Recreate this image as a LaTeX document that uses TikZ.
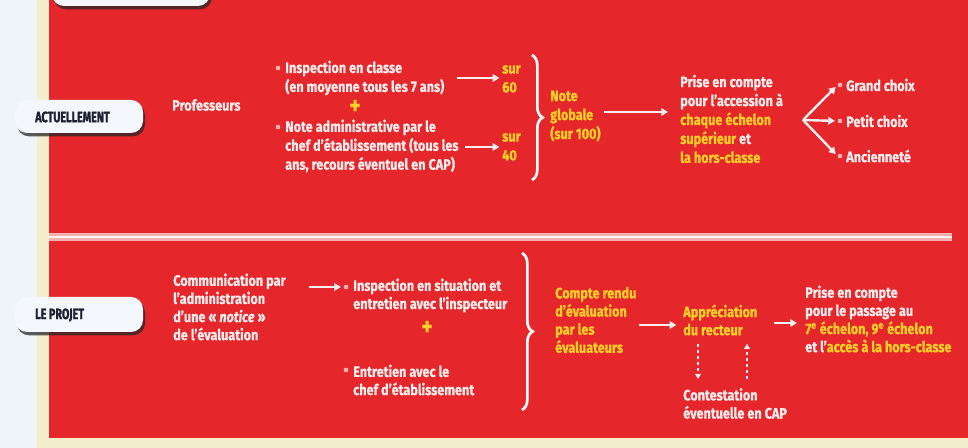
\documentclass[tikz,border=0pt]{standalone}
\usepackage{fontspec}
\setmainfont{Fira Sans}[FakeStretch=0.84, BoldFeatures={FakeBold=0.8}, BoldItalicFeatures={FakeBold=0.8}]
\newfontfamily\tabfont{Fira Sans}[FakeStretch=0.72, BoldFeatures={FakeBold=1.6}]
\usetikzlibrary{shadows,decorations.pathreplacing,arrows.meta}
\definecolor{redbg}{RGB}{229,38,42}
\definecolor{ylw}{RGB}{255,208,40}
\definecolor{wtxt}{RGB}{252,236,236}
\definecolor{blueleft}{RGB}{238,244,250}
\definecolor{cream}{RGB}{243,239,205}
\definecolor{tabf}{RGB}{244,248,252}
\definecolor{tabt}{RGB}{30,32,50}
\definecolor{pinkline}{RGB}{246,176,176}
\definecolor{bulc}{RGB}{250,175,175}
\definecolor{arrw}{RGB}{248,240,240}
\newcommand\fsA{\fontsize{11.3}{14.2}\selectfont\bfseries}
\newcommand\fsB{\fontsize{11.3}{13.6}\selectfont\bfseries}
\tikzset{
  txt/.style={inner sep=0pt, align=left, anchor=west, text=wtxt, font=\fsA},
  txtb/.style={txt, font=\fsB},
  ytxt/.style={text=ylw},
  bul/.style={rectangle, rounded corners=0.6pt, fill=bulc, inner sep=0pt, minimum size=3.2pt},
  plus/.style={inner sep=0pt, text=ylw, font=\fontsize{19}{19}\selectfont\bfseries},
  arr/.style={draw=arrw, line width=1.8pt, -{Triangle[length=5pt,width=5.6pt]}},
  darr/.style={draw=arrw, line width=1.2pt, dash pattern=on 2.5pt off 2pt, -{Triangle[length=3.8pt,width=4.2pt]}},
  brc/.style={draw=white, line width=2pt, decorate, decoration={brace, amplitude=8pt}},
  tab/.style={fill=tabf, rounded corners=9pt, inner sep=0pt,
    drop shadow={shadow xshift=1.5pt, shadow yshift=-2.5pt, fill=black!85, opacity=0.75}},
  tabtxt/.style={inner sep=0pt, anchor=west, text=tabt, font=\tabfont\fontsize{11.2}{13}\selectfont\bfseries},
}
\begin{document}
\begin{tikzpicture}[x=0.75pt,y=-0.75pt]
\useasboundingbox (0,0) rectangle (968,448);
% backgrounds
\fill[blueleft] (0,0) rectangle (968,448);
\fill[cream] (37,0) rectangle (968,448);
\fill[redbg] (49,0) rectangle (968,438);
% divider
\draw[pinkline, line width=6pt] (49,237) -- (952,237);
\draw[white!90!pinkline, line width=1.8pt] (49,237) -- (952,237);
% tabs
\node[tab, minimum width=118.5pt, minimum height=24pt] (tabT) at (131,-10) {};
\node[tab, minimum width=96pt, minimum height=24.75pt] (tabA) at (79,116.5) {};
\node[tabtxt] (tabAt) at (35,117) {ACTUELLEMENT};
\node[tab, minimum width=96pt, minimum height=26.25pt] (tabP) at (79,314.5) {};
\node[tabtxt] (tabPt) at (35,315) {LE PROJET};
% ---------- top section
\node[txt] (prof) at (172,105) {Professeurs};
\node[bul] (b1) at (278,68) {};
\node[txt] (insp) at (285,78) {Inspection en classe\\(en moyenne tous les 7 ans)};
\node[plus] (p1) at (355,107) {+};
\node[bul] (b2) at (278,127) {};
\node[txt] (note) at (285,146) {Note administrative par le\\chef d'établissement (tous les\\ans, recours éventuel en CAP)};
\node[txt,ytxt] (s60) at (502,79) {sur\\60};
\node[txt,ytxt] (s40) at (502,147) {sur\\40};
\draw[arr, shorten <=9pt, shorten >=2pt] (insp.east) -- (insp.east -| s60.west);
\draw[arr, shorten <=5pt, shorten >=2pt] (note.east |- s40.west) -- (s40.west);
\draw[brc] (532,55) -- (532,180);
\node[txt,ytxt] (ng) at (550,116) {Note\\globale\\(sur 100)};
\node[txt] (pc1) at (680,119) {Prise en compte\\pour l'accession à\\\textcolor{ylw}{chaque échelon}\\\textcolor{ylw}{supérieur} et\\\textcolor{ylw}{la hors-classe}};
\draw[arr, shorten <=2pt, shorten >=9pt] (ng.east |- 0,112) coordinate (ngA) -- (ngA -| pc1.west);
\coordinate (fan) at (803,120);
\node[bul] (b3) at (840,85) {};
\node[txt] (gc) at (846,85) {Grand choix};
\node[bul] (b6) at (840,121) {};
\node[txt] (pch) at (846,121) {Petit choix};
\node[bul] (b7) at (840,156) {};
\node[txt] (anc) at (846,156) {Ancienneté};
\draw[arr, shorten >=2pt] (fan) -- (b3.west);
\draw[arr, shorten >=2pt] (fan) -- (b6.west);
\draw[arr, shorten >=2pt] (fan) -- (b7.west);
% ---------- bottom section
\node[txtb] (comm) at (173,307) {Communication par\\l'administration\\d'une « \textit{notice} »\\de l'évaluation};
\node[bul] (b4) at (346,287) {};
\node[txtb] (insp2) at (353,295.5) {Inspection en situation et\\entretien avec l'inspecteur};
\draw[arr, shorten <=17pt, shorten >=2pt] (comm.east |- b4) -- (b4.west);
\node[plus] (p2) at (427,328) {+};
\node[bul] (b5) at (346,370) {};
\node[txtb] (entr) at (353,380) {Entretien avec le\\chef d'établissement};
\draw[brc] (522,253) -- (522,410);
\node[txtb,ytxt] (cr) at (555,320) {Compte rendu\\d'évaluation\\par les\\évaluateurs};
\node[txtb,ytxt] (ap) at (683,320) {Appréciation\\du recteur};
\draw[arr, shorten <=2pt, shorten >=5pt] (cr.east |- 0,325) coordinate (crA) -- (crA -| ap.west);
\node[txtb] (ct) at (683,403.5) {Contestation\\éventuelle en CAP};
\draw[darr] ([shift={(15,8)}]ap.south west) -- ([shift={(15,-9)}]ct.north west);
\draw[darr] ([shift={(64,-9)}]ct.north west) -- ([shift={(64,8)}]ap.south west);
\node[txtb] (pc2) at (805,319) {Prise en compte\\pour le passage au\\\textcolor{ylw}{7\textsuperscript{e} échelon, 9\textsuperscript{e} échelon}\\et l'\textcolor{ylw}{accès à la hors-classe}};
\draw[arr, shorten <=12pt, shorten >=6pt] (ap.east |- 0,323) coordinate (apA) -- (apA -| pc2.west);
\end{tikzpicture}
\end{document}
